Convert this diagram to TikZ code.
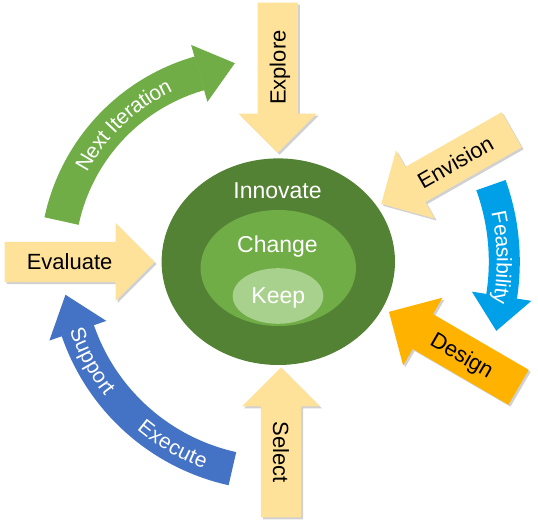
\documentclass[tikz,border=0pt]{standalone}
\usepackage{fontspec}
\setmainfont{Liberation Sans}
\usepackage{tikz}
\usetikzlibrary{shapes.arrows,shapes.geometric,shadows,calc,decorations.text,arrows.meta,positioning}

\definecolor{arrowtan}{HTML}{FFE29A}
\definecolor{designorange}{HTML}{FFB300}
\definecolor{iterationgreen}{HTML}{70AD47}
\definecolor{feasiblue}{HTML}{00A0E9}
\definecolor{supportblue}{HTML}{4472C4}
\definecolor{innovategreen}{HTML}{548235}
\definecolor{changegreen}{HTML}{70AD47}
\definecolor{keepgreen}{HTML}{A9D18E}

\tikzset{
  bigarrow/.style={single arrow, fill=arrowtan, minimum height=150pt, single arrow head extend=19pt,
    single arrow head indent=0pt, text height=16pt, text depth=0pt, inner ysep=12pt, inner xsep=0pt,
    font=\fontsize{22}{22}\selectfont,
    drop shadow={shadow xshift=2pt, shadow yshift=-2pt, opacity=0.3, fill=black!60}},
  ring/.style={ellipse, inner sep=0pt},
  ringtext/.style={anchor=base, text=white, font=\fontsize{23}{23}\selectfont},
  bendtext/.style={decorate, decoration={text along path, text align=center, raise=-7.5pt}}
}

\begin{document}
\begin{tikzpicture}[x=1pt,y=1pt]
\useasboundingbox (0,0) rectangle (538,527);
\coordinate (gc) at (253.3,265.2);
\coordinate (ec) at (278.3,265.3);
% centre
\node[ring, fill=innovategreen, minimum width=233.4pt, minimum height=206.6pt] (innovate) at (ec) {};
\node[ring, fill=changegreen, minimum width=155.4pt, minimum height=116pt] (change) at (278.3,259) {};
\node[ring, fill=keepgreen, minimum width=90.6pt, minimum height=55.6pt] (keep) at (278,231) {};
\node[ringtext] (innovatetext) at (277.5,328.7) {Innovate};
\node[ringtext] (changetext) at (277.5,274.3) {Change};
\node[ringtext] (keeptext) at (278.3,223.7) {Keep};
% straight arrows
\node[bigarrow, rotate=90, shape border rotate=180, anchor=tip] (explore) at (277.7,374) {Explore};
\node[bigarrow, rotate=-90, shape border rotate=180, anchor=tip] (select) at (281,160) {Select};
\node[bigarrow, anchor=tip] (evaluate) at (155,265) {Evaluate};
\node[bigarrow, rotate=29.6, shape border rotate=180, anchor=tip] (envision) at (381,323) {Envision};
\node[bigarrow, fill=designorange, rotate=-30.2, shape border rotate=180, anchor=tip] (design) at (388.7,215.3) {Design};
% curved arrows
\draw[iterationgreen, line width=35pt, -{Triangle[length=37pt,width=59pt,line width=1pt]}]
  ($(gc)+(168:196)$) arc[start angle=168, end angle=106, radius=196] -- ++(16:37);
\draw[feasiblue, line width=31pt, -{Triangle[length=35pt,width=60pt,line width=1pt]}]
  ($(ec)+(19.8:226)$) arc[start angle=19.8, end angle=-8.8, radius=226] -- ++(-98.8:35);
\draw[supportblue, line width=34pt, -{Triangle[length=38pt,width=60pt,line width=1pt]}]
  ($(ec)+(257.5:212)$) arc[start angle=257.5, end angle=199, radius=212] -- ++(109:38);
\path[bendtext, decoration={text={|\fontsize{21}{21}\selectfont\color{white}|Next Iteration}}]
  ($(gc)+(160:196)$) arc[start angle=160, end angle=107, radius=196];
\path[bendtext, decoration={text={|\fontsize{21}{21}\selectfont\color{white}|Feasibility}}]
  ($(ec)+(20:226)$) arc[start angle=20, end angle=-18, radius=226];
\path[bendtext, decoration={text={|\fontsize{21}{21}\selectfont\color{white}|Support}}]
  ($(ec)+(193:212)$) arc[start angle=193, end angle=223, radius=212];
\path[bendtext, decoration={text={|\fontsize{21}{21}\selectfont\color{white}|Execute}}]
  ($(ec)+(225:212)$) arc[start angle=225, end angle=255, radius=212];
\end{tikzpicture}
\end{document}
